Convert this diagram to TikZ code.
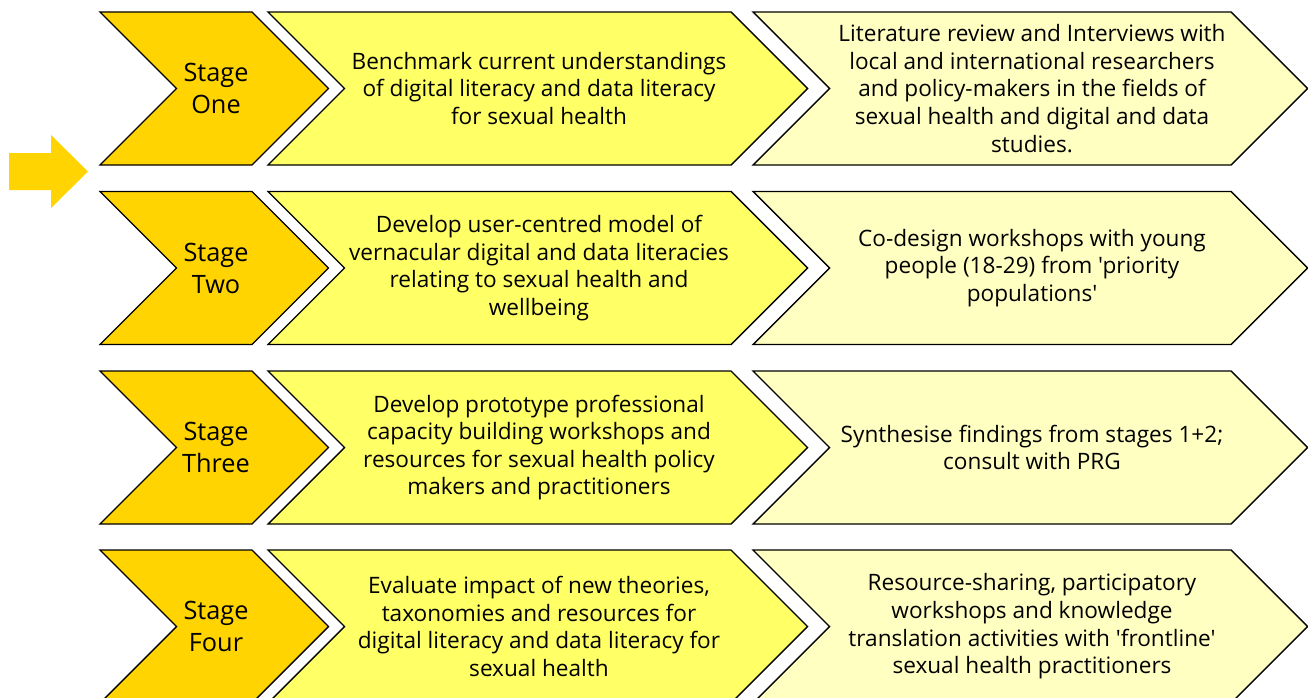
\documentclass[tikz,border=0pt]{standalone}
\usepackage{fontspec}
\setmainfont{Open Sans}[Ligatures=TeXOff]
\definecolor{gold}{HTML}{FFD400}
\definecolor{midyel}{HTML}{FFFF66}
\definecolor{lightyel}{HTML}{FFFFC2}
\tikzset{
  chevbox/.style={draw=black, line width=1.4pt, line join=miter},
  stagetext/.style={align=center, inner sep=0pt, font=\fontsize{25.3}{32}\selectfont},
  bodytext/.style={align=center, inner sep=0pt, font=\fontsize{22.6}{27.6}\selectfont},
}
% #1 left x, #2 right flat x, #3 top y, #4 colour
\newcommand{\mychev}[4]{%
  \path[chevbox, fill=#4] (#1,#3) -- (#2,#3) -- ({#2+76.5},{#3+76.5}) -- (#2,{#3+153}) -- (#1,{#3+153}) -- ({#1+76.5},{#3+76.5}) -- cycle;
}
\begin{document}
\begin{tikzpicture}[x=1pt,y=-1pt]
\useasboundingbox[clip] (0,0) rectangle (1308,698);
\fill[white] (0,0) rectangle (1308,698);
% rows
\foreach \yt in {12,191.5,371,550}{
  \mychev{100}{252}{\yt}{gold}
  \mychev{268}{731}{\yt}{midyel}
  \mychev{753}{1231}{\yt}{lightyel}
}
% left arrow
\fill[gold] (9,153) -- (51,153) -- (51,135) -- (88,171.5) -- (51,208) -- (51,190) -- (9,190) -- cycle;
% row 1
\node[stagetext] (s1) at (216,88.5) {Stage\\One};
\node[bodytext] (m1) at (539,88.5) {Benchmark current understandings\\of digital literacy and data literacy\\for sexual health};
\node[bodytext] (r1) at (1032,88.5) {Literature review and Interviews with\\local and international researchers\\and policy-makers in the fields of\\sexual health and digital and data\\studies.};
% row 2
\node[stagetext] (s2) at (216,268) {Stage\\Two};
\node[bodytext] (m2) at (539,268) {Develop user-centred model of\\vernacular digital and data literacies\\relating to sexual health and\\wellbeing};
\node[bodytext] (r2) at (1032,268) {Co-design workshops with young\\people (18-29) from 'priority\\populations'};
% row 3
\node[stagetext] (s3) at (216,447.5) {Stage\\Three};
\node[bodytext] (m3) at (539,447.5) {Develop prototype professional\\capacity building workshops and\\resources for sexual health policy\\makers and practitioners};
\node[bodytext] (r3) at (1032,447.5) {Synthesise findings from stages 1+2;\\consult with PRG};
% row 4
\node[stagetext] (s4) at (216,626.5) {Stage\\Four};
\node[bodytext] (m4) at (539,626.5) {Evaluate impact of new theories,\\taxonomies and resources for\\digital literacy and data literacy for\\sexual health};
\node[bodytext] (r4) at (1032,626.5) {Resource-sharing, participatory\\workshops and knowledge\\translation activities with 'frontline'\\sexual health practitioners};
\end{tikzpicture}
\end{document}
